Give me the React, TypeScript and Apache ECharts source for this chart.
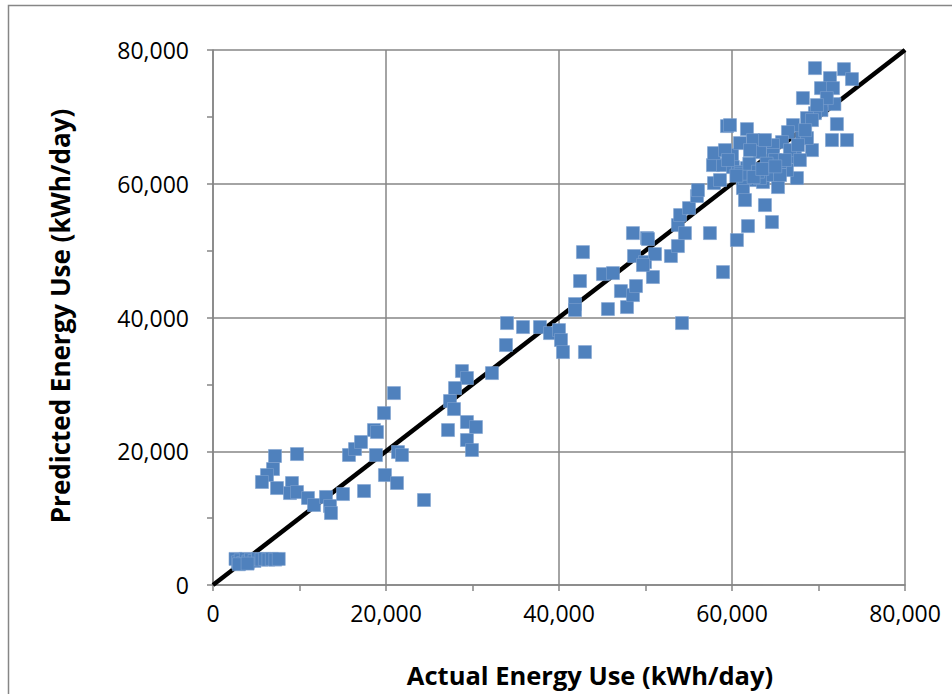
import React, { useEffect, useRef } from "react";
import * as echarts from "echarts";

// Actual energy use (kWh/day)
const actual: number[] = [
  2600, 2900, 3200, 3500, 3800, 4100, 4400, 4800, 5200, 5600, 6000, 6400, 6800, 7200, 7600, 3000, 4000,
  7170, 9710, 6940, 6240, 5660, 7400, 9130, 8900, 9710, 10980, 11680, 13060, 13530, 13640, 15030, 17460,
  15720, 16420, 17110, 18610, 18960, 19770, 20920, 19880, 18840, 21390, 21850, 21270, 24390,
  28780, 29360, 27980, 27400, 27860, 27170, 29360, 30400, 29360, 29940, 32250, 33870,
  33990, 35840, 37800, 38960, 40000, 40230, 40460, 43000, 41850, 41850, 42430, 42770, 45080, 46240, 45660,
  47160, 47860, 48550, 48900, 48670, 49940, 50170, 50860, 54220,
  50290, 48550, 51100, 49710, 52940, 53750, 53750, 54560, 54000, 55030, 55950, 56070, 57450, 58960, 57920,
  57800, 58960, 57920, 59420,
  69590, 72940, 73870, 71330, 70290, 71680, 68200, 71840, 70340, 69590, 68670, 72130, 73290, 71560, 69250,
  68090, 67050, 66470, 65780, 64740, 67280, 67510, 65320, 63810, 64620, 61850, 60570, 59770, 61730, 62420,
  60000, 60920, 63230, 64040, 61730, 60110, 62420, 63580, 61270, 61500, 58610, 66350, 65550, 64740, 68670,
  69250, 70960, 69820,
  59190, 60690, 62660, 64390, 64970, 66700, 67630, 68460, 63810, 59530, 62080, 63230, 61500, 65550, 66120, 67850,
  61000, 62000, 63000, 64000, 60500, 62500, 63500, 65000,
];

// Predicted energy use (kWh/day)
const predicted: number[] = [
  3900, 3400, 3700, 3300, 3900, 3500, 3800, 3600, 3900, 3800, 3900, 3800, 3900, 3800, 3900, 3100, 3200,
  19290, 19580, 17340, 16440, 15400, 14500, 15250, 13750, 13900, 13010, 11960, 13160, 11810, 10760, 13600, 14050,
  19440, 20330, 21380, 23170, 22870, 25710, 28700, 16440, 19430, 19880, 19430, 15250, 12710,
  31990, 30950, 29450, 27510, 26310, 23170, 24370, 23620, 21680, 20180, 31690, 35880,
  39170, 38570, 38570, 37670, 38120, 36630, 34830, 34830, 42010, 41110, 45450, 49780, 46490, 46640, 41260,
  43950, 41560, 43350, 44700, 49190, 48290, 51880, 46050, 39170,
  51730, 52620, 49480, 47840, 49190, 50680, 53820, 52620, 55320, 56360, 58160, 59050, 52620, 46790, 60100,
  62790, 62790, 64580, 68620,
  77290, 77140, 75650, 75800, 74300, 74300, 72810, 71910, 71010, 70560, 69820, 68920, 66530, 66530, 65030,
  66830, 68770, 67720, 66230, 65780, 63990, 60850, 59500, 56810, 54270, 53670, 51580, 68770, 68170, 66530,
  64290, 66080, 64730, 62790, 62340, 62490, 60550, 60250, 59350, 57560, 60550, 62040, 63240, 64290, 66830,
  69520, 72810, 71760,
  65030, 61740, 62040, 61300, 63540, 65030, 65780, 68020, 66530, 63540, 65030, 60850, 60850, 61300, 63540, 63540,
  61500, 63000, 61800, 63000, 61200, 61000, 62200, 62600,
];

// 1:1 reference line
const lineX: number[] = [0, 80000];
const lineY: number[] = [0, 80000];

const xTitle = "Actual Energy Use (kWh/day)";
const yTitle = "Predicted Energy Use (kWh/day)";

const FONT = '"Open Sans", "Liberation Sans", sans-serif';
const GRAY = "#868686";

export default function App() {
  const ref = useRef<HTMLDivElement>(null);
  useEffect(() => {
    if (!ref.current) return;
    const chart = echarts.init(ref.current, null, { renderer: "svg" });
    const fmt = (v: number) => v.toLocaleString("en-US");
    const axisCommon = {
      type: "value" as const,
      min: 0,
      max: 80000,
      interval: 20000,
      axisLine: { show: true, lineStyle: { color: GRAY, width: 1.5 } },
      axisTick: { show: true, inside: false, length: 6, lineStyle: { color: GRAY, width: 1.5 } },
      minorTick: { show: true, splitNumber: 2, length: 6, lineStyle: { color: GRAY, width: 1.5 } },
      splitLine: { show: true, lineStyle: { color: GRAY, width: 1.5 } },
      axisLabel: { color: "#000", fontSize: 23, fontFamily: FONT, formatter: fmt },
    };
    chart.setOption({
      animation: false,
      backgroundColor: "#fff",
      grid: { left: 213, right: 47, top: 50, bottom: 109, containLabel: false },
      xAxis: { ...axisCommon, axisLabel: { ...axisCommon.axisLabel, margin: 16 } },
      yAxis: { ...axisCommon, axisLabel: { ...axisCommon.axisLabel, margin: 24 } },
      graphic: [
        {
          type: "rect",
          shape: { x: 8.5, y: 5.5, width: 1000, height: 1000 },
          style: { fill: "none", stroke: GRAY, lineWidth: 1.5 },
          silent: true,
          z: -1,
        },
        {
          type: "text",
          x: 590,
          y: 675,
          style: {
            text: xTitle,
            font: `bold 25.5px ${FONT}`,
            fill: "#000",
            textAlign: "center",
            textVerticalAlign: "middle",
          },
        },
        {
          type: "text",
          x: 60,
          y: 316,
          rotation: Math.PI / 2,
          style: {
            text: yTitle,
            font: `bold 26px ${FONT}`,
            fill: "#000",
            textAlign: "center",
            textVerticalAlign: "middle",
          },
        },
      ],
      series: [
        {
          type: "line",
          data: lineX.map((x, i) => [x, lineY[i]]),
          symbol: "none",
          lineStyle: { color: "#000", width: 4.5 },
          z: 1,
        },
        {
          type: "scatter",
          data: actual.map((x, i) => [x, predicted[i]]),
          symbol: "rect",
          symbolSize: 13,
          itemStyle: { color: "#4F81BD", opacity: 1, borderColor: "#7FA3D0", borderWidth: 0.6 },
          z: 2,
        },
      ],
    });
    return () => chart.dispose();
  }, []);
  return (
    <div
      ref={ref}
      style={{ position: "fixed", left: 0, top: 0, width: 952, height: 694, background: "#fff" }}
    />
  );
}
